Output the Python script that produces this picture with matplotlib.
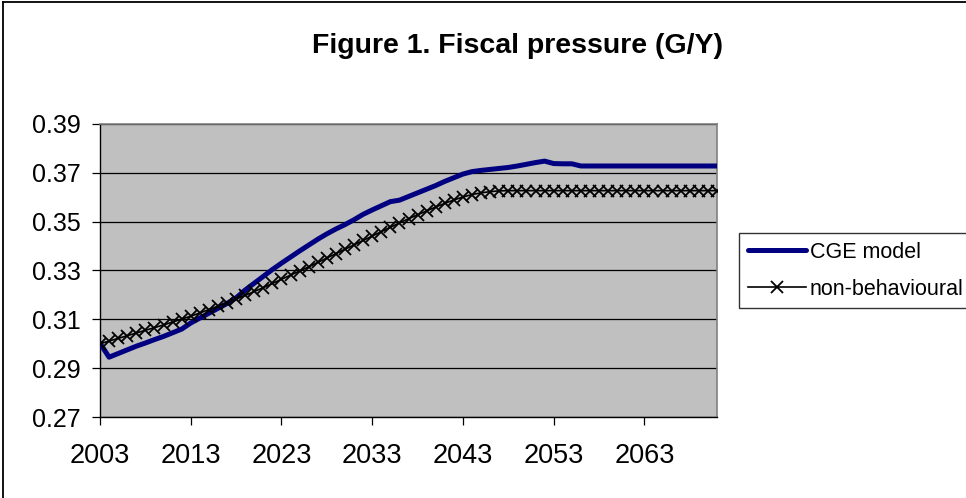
import matplotlib
matplotlib.use("Agg")
import matplotlib.pyplot as plt
from matplotlib.lines import Line2D
import numpy as np

years = list(range(2003, 2072))

cge_model = [
    0.3002, 0.2945, 0.2960, 0.2975, 0.2990, 0.3003, 0.3017, 0.3030, 0.3045, 0.3060,
    0.3085, 0.3105, 0.3125, 0.3145, 0.3165, 0.3188, 0.3220, 0.3248, 0.3276, 0.3304,
    0.3330, 0.3355, 0.3380, 0.3404, 0.3428, 0.3450, 0.3470, 0.3488, 0.3508, 0.3530,
    0.3548, 0.3565, 0.3582, 0.3588, 0.3603, 0.3618, 0.3633, 0.3648, 0.3665, 0.3680,
    0.3695, 0.3705, 0.3710, 0.3714, 0.3718, 0.3722, 0.3728, 0.3735, 0.3742, 0.3748,
    0.3738, 0.3737, 0.3737, 0.3728, 0.3728, 0.3728, 0.3728, 0.3728, 0.3728, 0.3728,
    0.3728, 0.3728, 0.3728, 0.3728, 0.3728, 0.3728, 0.3728, 0.3728, 0.3728,
]

non_behavioural = [
    0.3000, 0.3011, 0.3022, 0.3033, 0.3044, 0.3055, 0.3066, 0.3077, 0.3089, 0.3101,
    0.3113, 0.3126, 0.3140, 0.3154, 0.3168, 0.3183, 0.3198, 0.3214, 0.3230, 0.3247,
    0.3264, 0.3281, 0.3298, 0.3315, 0.3333, 0.3351, 0.3369, 0.3387, 0.3405, 0.3423,
    0.3441, 0.3459, 0.3477, 0.3495, 0.3512, 0.3528, 0.3544, 0.3560, 0.3575, 0.3589,
    0.3601, 0.3611, 0.3618, 0.3623, 0.3626, 0.3627, 0.3627, 0.3627, 0.3627, 0.3627,
    0.3627, 0.3627, 0.3627, 0.3627, 0.3627, 0.3627, 0.3627, 0.3627, 0.3627, 0.3627,
    0.3627, 0.3627, 0.3627, 0.3627, 0.3627, 0.3627, 0.3627, 0.3627, 0.3627,
]

series_labels = ["CGE model", "non-behavioural"]
x_ticks = [2003, 2013, 2023, 2033, 2043, 2053, 2063]
y_ticks = [0.27, 0.29, 0.31, 0.33, 0.35, 0.37, 0.39]
title = "Figure 1. Fiscal pressure (G/Y)"

plt.rcParams['font.family'] = ['Liberation Sans', 'DejaVu Sans']

W, H = 966, 498
fig = plt.figure(figsize=(W / 100, H / 100), dpi=100)
fig.patch.set_facecolor('white')

left, right, top, bottom = 100, 717, 124, 417
ax = fig.add_axes([left / W, 1 - bottom / H, (right - left) / W, (bottom - top) / H])
ax.set_facecolor('#C0C0C0')

ax.plot(years, cge_model, color='#000080', lw=3.6, solid_capstyle='round',
        solid_joinstyle='round', label=series_labels[0], zorder=3)
ax.plot(years, non_behavioural, color='black', lw=1.2, marker='x', markersize=8,
        markeredgewidth=1.3, label=series_labels[1], zorder=4)

ax.set_xlim(years[0], years[-1])
ax.set_ylim(y_ticks[0], y_ticks[-1])
ax.set_xticks(x_ticks)
ax.set_xticklabels([str(t) for t in x_ticks])
ax.set_yticks(y_ticks)
ax.set_yticklabels([f"{t:.2f}" for t in y_ticks])
ax.yaxis.grid(True, color='black', lw=0.9)
ax.set_axisbelow(True)
ax.tick_params(axis='both', direction='out', length=6, width=0.9, colors='black')
ax.tick_params(axis='y', pad=8, labelsize=18)
ax.tick_params(axis='x', pad=13, labelsize=19.5)
for s in ['top', 'right']:
    ax.spines[s].set_color('#808080')
    ax.spines[s].set_linewidth(1.2)
for s in ['left', 'bottom']:
    ax.spines[s].set_color('black')
    ax.spines[s].set_linewidth(1.0)

fig.text(517 / W, 1 - 46 / H, title, ha='center', va='center', fontsize=20.5,
         fontweight='bold')

leg = fig.legend(loc='upper left', bbox_to_anchor=(739 / W, 1 - 233 / H),
                 frameon=True, fancybox=False, fontsize=15.5, handlelength=2.7,
                 handletextpad=0.2, borderpad=0.4, labelspacing=0.75,
                 borderaxespad=0)
leg.get_frame().set_edgecolor('black')
leg.get_frame().set_linewidth(1.0)
leg.get_frame().set_facecolor('white')

# chart border (left and top edges visible)
fig.add_artist(Line2D([3 / W, 3 / W], [0, 1 - 2 / H], color='black', lw=1.3,
                      transform=fig.transFigure))
fig.add_artist(Line2D([3 / W, 1], [1 - 2 / H, 1 - 2 / H], color='black', lw=1.3,
                      transform=fig.transFigure))

fig.savefig('out.png', dpi=100)
